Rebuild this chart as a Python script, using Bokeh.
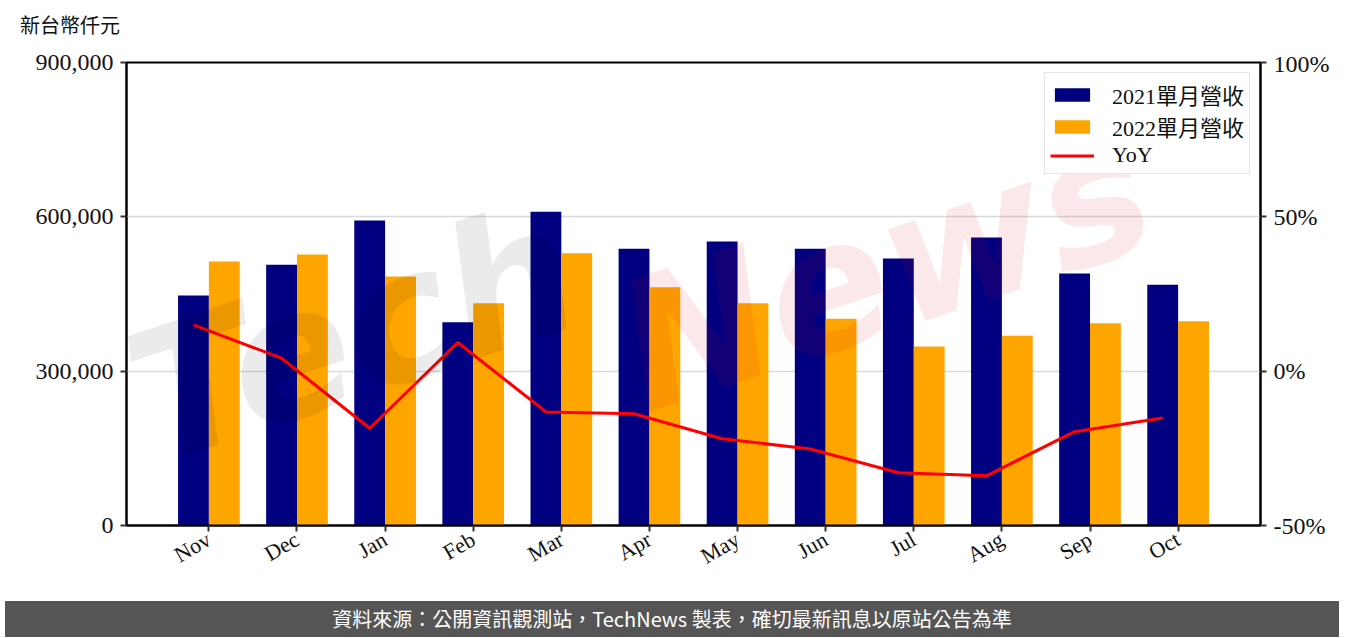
import math
from bokeh.plotting import figure
from bokeh.models import (ColumnDataSource, FactorRange, Range1d, LinearAxis, FixedTicker,
                          NumeralTickFormatter, PrintfTickFormatter, Legend, LegendItem, Div, Label)
from bokeh.transform import dodge
from bokeh.layouts import column
from bokeh.embed import file_html
from bokeh.resources import INLINE

months = ["Nov", "Dec", "Jan", "Feb", "Mar", "Apr", "May", "Jun", "Jul", "Aug", "Sep", "Oct"]
rev_2021 = [447000, 507000, 593000, 395000, 610000, 538000, 552000, 538000, 519000, 560000, 490000, 468000]
rev_2022 = [513000, 527000, 484000, 432000, 529000, 463000, 432000, 402000, 348000, 369000, 393000, 397000]
yoy = [15.0, 4.2, -18.5, 9.3, -13.2, -13.8, -21.9, -25.2, -32.9, -33.9, -19.6, -15.2]
left_ticks = [0, 300000, 600000, 900000]
right_ticks = [-50, 0, 50, 100]

SERIF = "Liberation Serif, Noto Sans CJK TC"
SANS = "Noto Sans CJK TC"

src = ColumnDataSource(dict(month=months, r21=rev_2021, r22=rev_2022, yoy=yoy))

W = 1334
p = figure(width=W, height=546, x_range=FactorRange(*months, range_padding=0.0725),
           y_range=Range1d(0, 900000), output_backend="svg", toolbar_location=None,
           min_border_left=126, min_border_right=74, min_border_top=12, min_border_bottom=71)
p.extra_y_ranges = {"yoy": Range1d(-50, 100)}

b1 = p.vbar(x=dodge("month", -0.175, range=p.x_range), top="r21", width=0.35, source=src,
            fill_color="#000080", line_color=None)
b2 = p.vbar(x=dodge("month", 0.175, range=p.x_range), top="r22", width=0.35, source=src,
            fill_color="#FFA500", line_color=None)
ln = p.line(x=dodge("month", -0.175, range=p.x_range), y="yoy", y_range_name="yoy", source=src,
            line_color="#FF0000", line_width=3)

# watermark
p.add_layout(Label(x=0.05, y=40000, text="Tech", angle=0.32, text_font="DejaVu Sans",
                   text_font_style="bold italic", text_font_size="180px", text_color="#000000",
                   text_alpha=0.08))
p.add_layout(Label(x=5.6, y=140000, text="News", angle=0.32, text_font="DejaVu Sans",
                   text_font_style="bold italic", text_font_size="180px", text_color="#cc0011",
                   text_alpha=0.09))

# axes
ax = p.yaxis[0]
ax.ticker = FixedTicker(ticks=left_ticks)
ax.formatter = NumeralTickFormatter(format="0,0")
ra = LinearAxis(y_range_name="yoy", ticker=FixedTicker(ticks=right_ticks),
                formatter=PrintfTickFormatter(format="%d%%"))
p.add_layout(ra, "right")
for a in [ax, ra, p.xaxis[0]]:
    a.axis_line_color = "black"
    a.axis_line_width = 2
    a.major_tick_line_color = "#333333"
    a.major_tick_line_width = 2
    a.major_tick_out = 6
    a.major_tick_in = 0
    a.minor_tick_line_color = None
    a.major_label_text_font = SERIF
    a.major_label_text_font_size = "24px"
    a.major_label_text_color = "#111111"
    a.major_label_standoff = 7
p.xaxis.major_label_text_font_size = "22px"
p.xaxis.major_label_orientation = math.pi / 6
p.xaxis.major_label_standoff = 6

p.xgrid.visible = False
p.ygrid.ticker = FixedTicker(ticks=left_ticks)
p.ygrid.grid_line_color = "#d9d9d9"
p.ygrid.grid_line_width = 1.5
p.outline_line_color = "black"
p.outline_line_width = 2
p.outline_line_alpha = 1

legend = Legend(items=[LegendItem(label="2021單月營收", renderers=[b1]),
                       LegendItem(label="2022單月營收", renderers=[b2]),
                       LegendItem(label="YoY", renderers=[ln])],
                location="top_right")
legend.label_text_font = SERIF
legend.label_text_font_size = "22px"
legend.label_text_color = "#111111"
legend.glyph_width = 44
legend.glyph_height = 17
legend.label_standoff = 18
legend.spacing = 0
legend.padding = 5
legend.margin = 10
legend.border_line_color = "#cccccc"
legend.border_line_width = 1.5
p.add_layout(legend)

top = Div(text="新台幣仟元", width=W, height=40,
          styles={"font-size": "20px", "font-family": SANS, "padding-left": "15px",
                  "padding-top": "6px", "color": "#111111"})
foot = Div(text="資料來源：公開資訊觀測站，TechNews 製表，確切最新訊息以原站公告為準", width=W, height=36,
           styles={"font-size": "20px", "font-family": SANS, "background-color": "#555555",
                   "color": "#ffffff", "text-align": "center", "line-height": "36px",
                   "width": f"{W}px", "height": "36px"})

layout = column(top, p, foot, spacing=0)
open("out.html", "w").write(file_html(layout, INLINE))
